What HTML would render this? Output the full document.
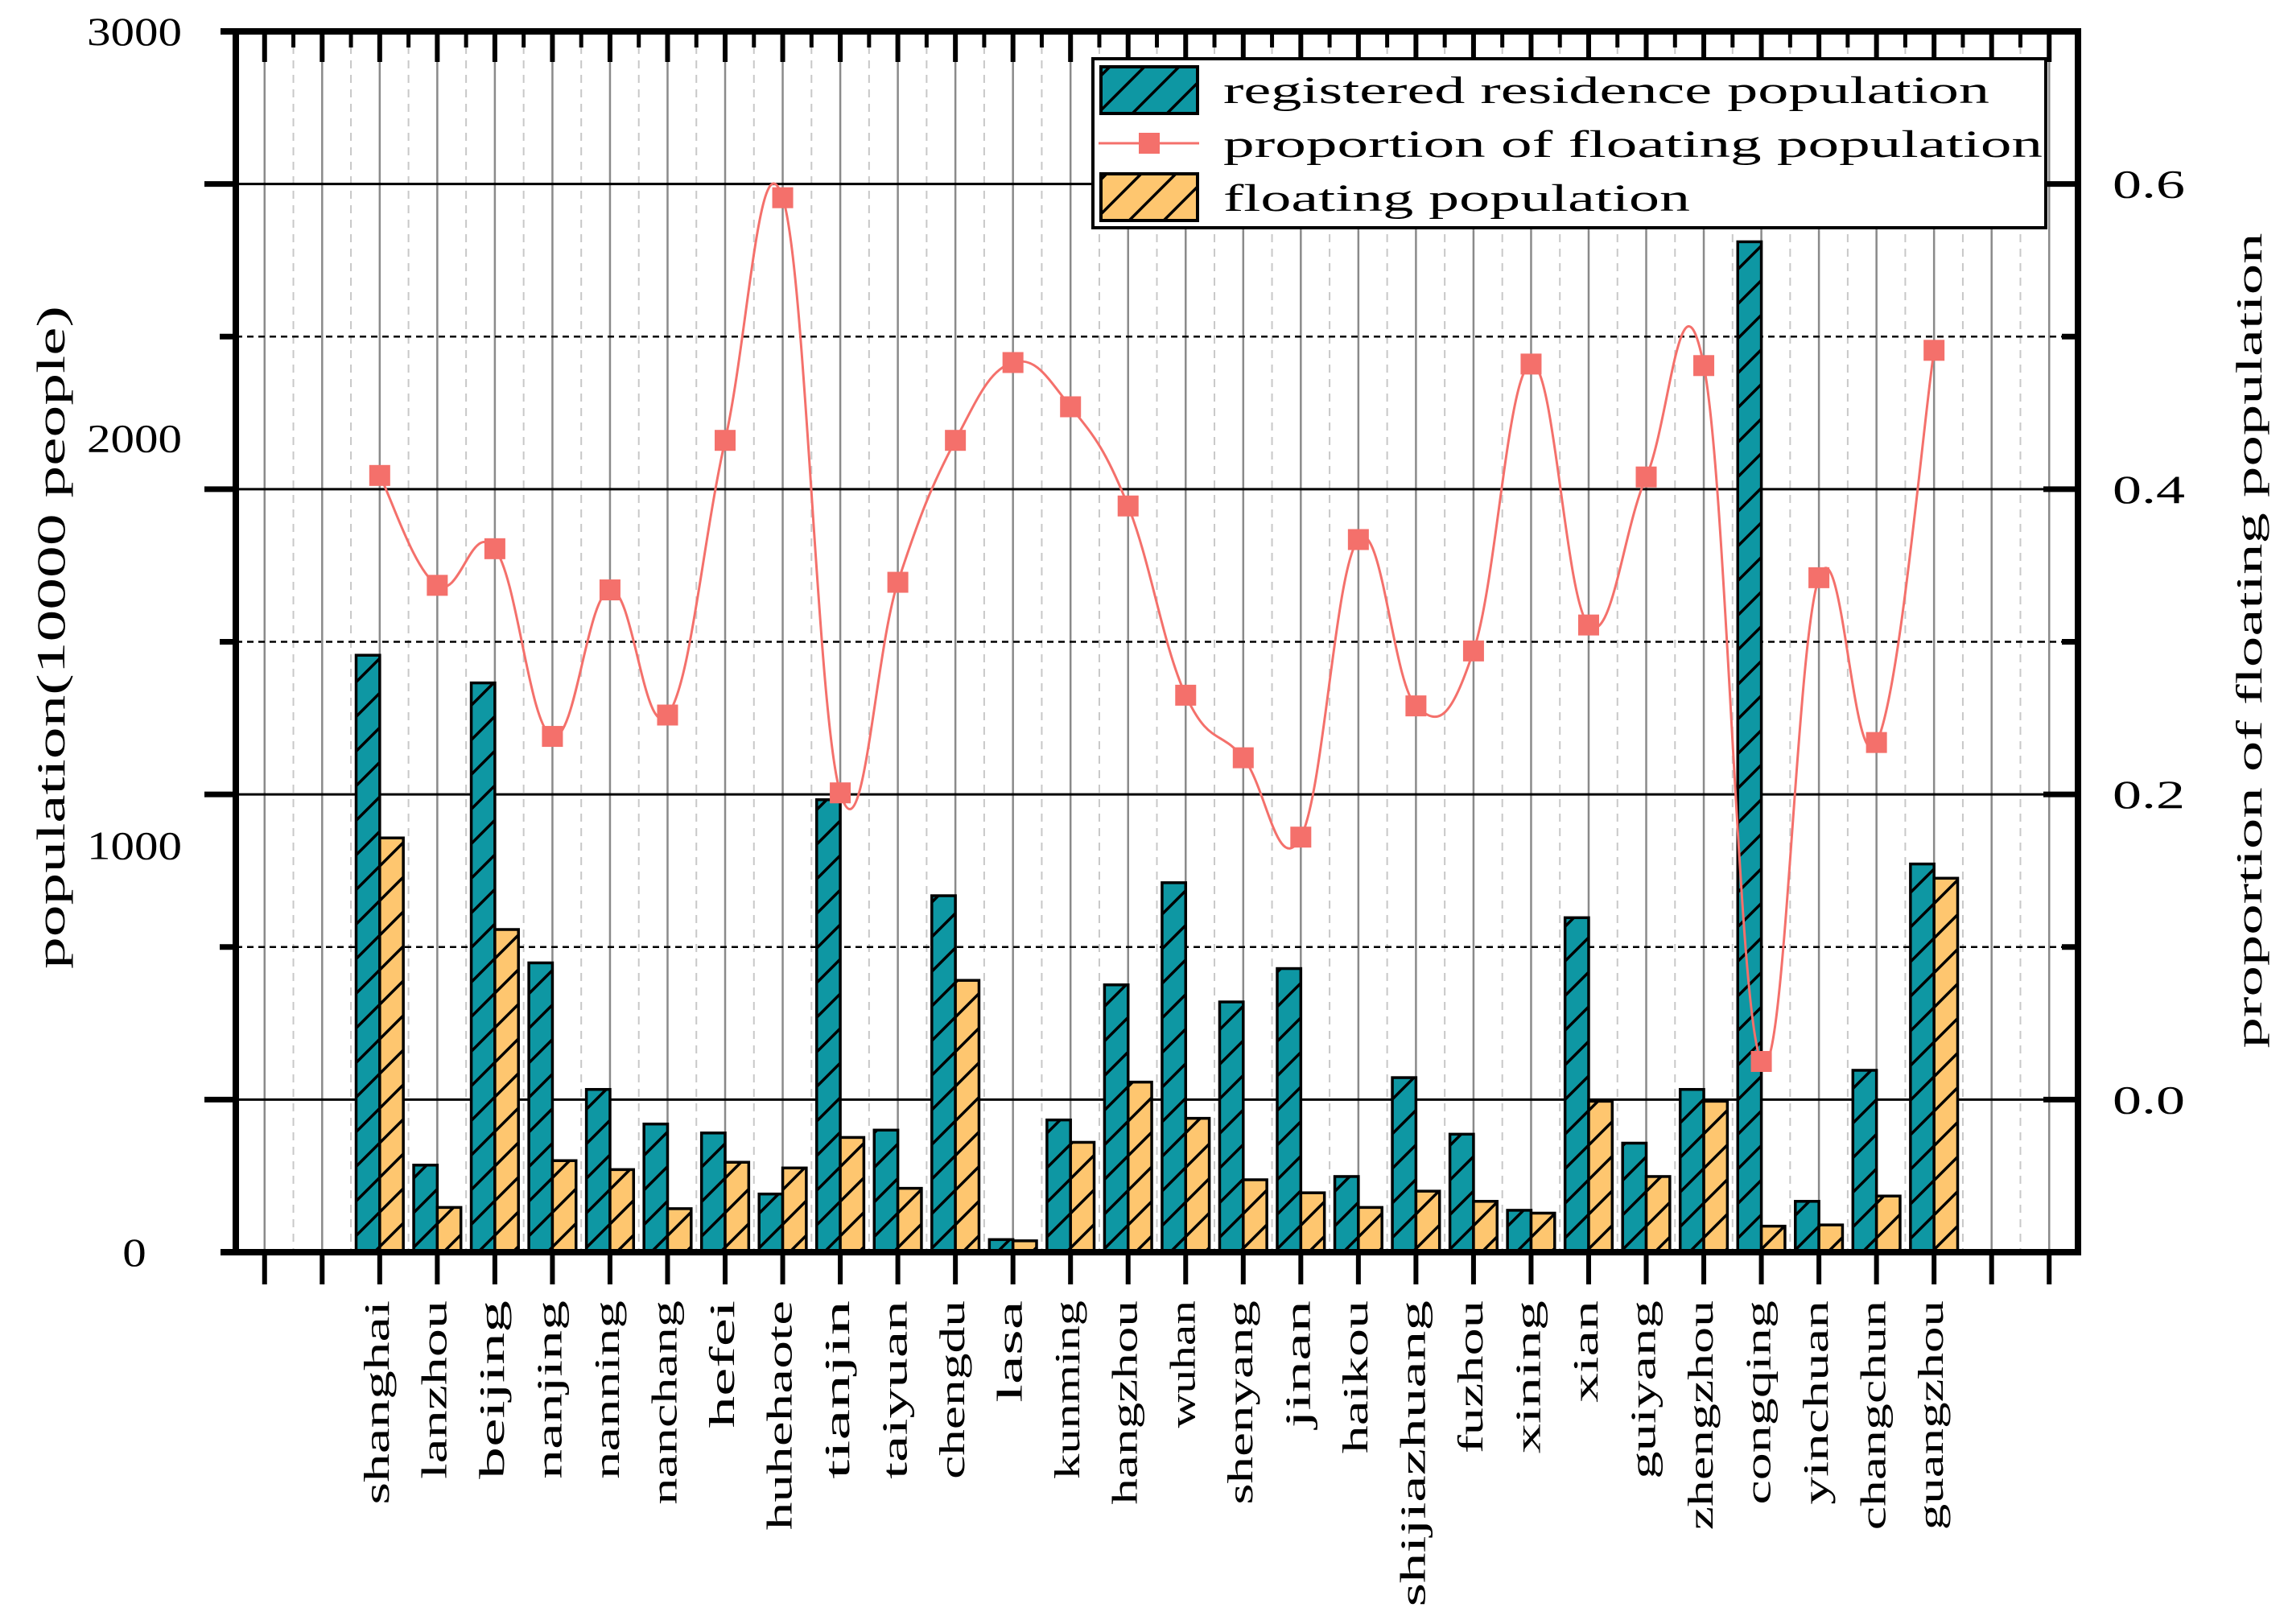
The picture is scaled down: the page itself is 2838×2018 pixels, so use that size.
<!DOCTYPE html>
<html><head><meta charset="utf-8"><style>
html,body{margin:0;padding:0;background:#fff;}
svg{display:block;}
text{font-family:"Liberation Serif",serif;fill:#000;}
</style></head><body>
<svg id="chart" width="2838" height="2018" viewBox="0 0 2838 2018" xmlns="http://www.w3.org/2000/svg">
<defs>
<pattern id="hatchB" patternUnits="userSpaceOnUse" width="43" height="43" patternTransform="translate(0,0)">
<rect width="43" height="43" fill="#0e97a3"/>
<path d="M-5,48 L48,-5 M-5,5 L5,-5 M38,48 L48,38" stroke="#000" stroke-width="3.5"/>
</pattern>
<pattern id="hatchO" patternUnits="userSpaceOnUse" width="43" height="43">
<rect width="43" height="43" fill="#fec66f"/>
<path d="M-5,48 L48,-5 M-5,5 L5,-5 M38,48 L48,38" stroke="#000" stroke-width="3.5"/>
</pattern>
</defs>
<g id="grid"></g>
<g id="bars"></g>
<g id="line"></g>
<g id="axes"></g>
<g id="legend">
<rect x="1358" y="73" width="1184" height="210" fill="#fff" stroke="#000" stroke-width="4"/>
<g>
<rect x="1368" y="83" width="120" height="58" fill="url(#hatchB)" stroke="#000" stroke-width="4"/>
<text x="1520" y="128" font-size="48" textLength="952" lengthAdjust="spacingAndGlyphs">registered residence population</text>
</g>
<g>
<line x1="1365" y1="178" x2="1490" y2="178" stroke="#f4706b" stroke-width="3"/>
<rect x="1415" y="165" width="26" height="26" fill="#f4706b"/>
<text x="1520" y="195" font-size="48" textLength="1018" lengthAdjust="spacingAndGlyphs">proportion of floating population</text>
</g>
<g>
<rect x="1368" y="216" width="120" height="58" fill="url(#hatchO)" stroke="#000" stroke-width="4"/>
<text x="1520" y="262" font-size="48" textLength="580" lengthAdjust="spacingAndGlyphs">floating population</text>
</g>
</g>
<text transform="translate(80,792) rotate(-90)" text-anchor="middle" font-size="50" textLength="824" lengthAdjust="spacingAndGlyphs">population(10000 people)</text>
<text transform="translate(2810,796) rotate(-90)" text-anchor="middle" font-size="46" textLength="1013" lengthAdjust="spacingAndGlyphs">proportion of floating population</text>
</svg>
<script>
const categories = ["shanghai","lanzhou","beijing","nanjing","nanning","nanchang","hefei","huhehaote","tianjin","taiyuan","chengdu","lasa","kunming","hangzhou","wuhan","shenyang","jinan","haikou","shijiazhuang","fuzhou","xining","xian","guiyang","zhengzhou","congqing","yinchuan","changchun","guangzhou"];
const registered = [1467,214,1399,711,400,315,293,143,1112,300,876,31,325,657,908,615,697,186,429,290,103,822,268,400,2483,125,447,954];
const floating = [1018,110,793,225,203,107,221,207,282,157,668,28,270,418,329,178,146,110,150,125,96,371,186,371,64,67,138,919];
const proportion = [0.409,0.337,0.361,0.238,0.334,0.252,0.432,0.591,0.201,0.339,0.432,0.483,0.454,0.389,0.265,0.224,0.172,0.367,0.258,0.294,0.482,0.311,0.408,0.481,0.025,0.342,0.234,0.491];
const leftTicks = [0,1000,2000,3000];
const rightTicks = [0.0,0.2,0.4,0.6];

const NS="http://www.w3.org/2000/svg";
const X0=293,X1=2582,YT=39,YB=1556,SLOTS=32,OFF=2;
const slotW=(X1-X0)/SLOTS;
function xSlot(i){return X0+(i+0.5)*slotW;}
function xCat(i){return xSlot(i+OFF);}
function yL(v){return YB-(v/3000)*(YB-YT);}
function yR(v){return YB-((v+0.1)/0.8)*(YB-YT);}
function mk(tag,attrs,parent){const e=document.createElementNS(NS,tag);for(const k in attrs)e.setAttribute(k,attrs[k]);parent.appendChild(e);return e;}

const grid=document.getElementById('grid');
for(let i=0;i<SLOTS;i++){
  const x=xSlot(i);
  const g=mk('line',{x1:x,y1:YT,x2:x,y2:YB,stroke:'#8a8a8a','stroke-width':2.5},grid);
  
  
  const xm=x-slotW/2;
  if(i>0){const d=mk('line',{x1:xm,y1:YT,x2:xm,y2:YB,stroke:'#c8c8c8','stroke-width':2,'stroke-dasharray':'10,8'},grid);
  
  }
}
for(let v=0;v<=6;v++){
  const val=v/10;const y=yR(val);const major=v%2===0;
  const h=mk('line',{x1:X0,y1:y,x2:X1,y2:y,stroke:'#000','stroke-width':major?3:2.5},grid);
  if(!major)h.setAttribute('stroke-dasharray','8,6');
  
  
}

const bars=document.getElementById('bars');
const bw=slotW*0.41;
categories.forEach((c,i)=>{
  const cx=xCat(i);
  const b=mk('rect',{x:cx-bw,y:yL(registered[i]),width:bw,height:YB-yL(registered[i]),fill:'url(#hatchB)',stroke:'#000','stroke-width':3.5},bars);
  
  
  const o=mk('rect',{x:cx,y:yL(floating[i]),width:bw,height:YB-yL(floating[i]),fill:'url(#hatchO)',stroke:'#000','stroke-width':3.5},bars);
  
  
});

const lineG=document.getElementById('line');
const pts=proportion.map((v,i)=>[xCat(i),yR(v)]);
let d='M'+pts[0][0]+','+pts[0][1];
for(let i=0;i<pts.length-1;i++){
  const p0=pts[Math.max(0,i-1)],p1=pts[i],p2=pts[i+1],p3=pts[Math.min(pts.length-1,i+2)];
  const t=1/5;
  const c1=[p1[0]+(p2[0]-p0[0])*t,p1[1]+(p2[1]-p0[1])*t];
  const c2=[p2[0]-(p3[0]-p1[0])*t,p2[1]-(p3[1]-p1[1])*t];
  d+=' C'+c1[0]+','+c1[1]+' '+c2[0]+','+c2[1]+' '+p2[0]+','+p2[1];
}
const path=mk('path',{d:d,fill:'none',stroke:'#f4706b','stroke-width':3},lineG);


pts.forEach((p,i)=>{
  const m=mk('rect',{x:p[0]-13,y:p[1]-13,width:26,height:26,fill:'#f4706b'},lineG);
  
  
});

const ax=document.getElementById('axes');
function L(x1,y1,x2,y2,w,name){const l=mk('line',{x1:x1,y1:y1,x2:x2,y2:y2,stroke:'#000','stroke-width':w},ax);
  
  return l;}
L(274,YT,X1+4,YT,8,'top-axis');
L(274,YB,X1+4,YB,8,'x-axis');
L(X0,YT-4,X0,YB+4,8,'left-axis');
L(X1,YT-4,X1,YB+4,8,'right-axis');
for(let i=0;i<SLOTS;i++){
  const x=xSlot(i);
  L(x,YT,x,YT+38,6,'top-major-tick');
  if(i>0)L(x-slotW/2,YT,x-slotW/2,YT+20,5,'top-minor-tick');
  L(x,YB,x,YB+40,6,'x-tick');
}
for(let v=0;v<=6;v++){
  const y=yR(v/10);const major=v%2===0;
  L(X0-(major?39:20),y,X0,y,7,'left-tick');
  L(X1-(major?43:20),y,X1,y,7,'right-tick');
}
leftTicks.forEach(v=>{
  const t=mk('text',{x:167,y:yL(v)+17,'text-anchor':'middle','font-size':50,textLength:String(v).length*29.5,lengthAdjust:'spacingAndGlyphs'},ax);
  t.textContent=String(v);
  
  
});
rightTicks.forEach(v=>{
  const t=mk('text',{x:2625,y:yR(v)+17,'font-size':50,textLength:90,lengthAdjust:'spacingAndGlyphs'},ax);
  t.textContent=v.toFixed(1);
  
  
});
categories.forEach((c,i)=>{
  const x=xCat(i)+11;
  const t=mk('text',{transform:'translate('+x+',1616) rotate(-90)','text-anchor':'end','font-size':44,textLength:c.length*31.7,lengthAdjust:'spacingAndGlyphs'},ax);
  t.textContent=c;
  
  
});
</script>
</body></html>
